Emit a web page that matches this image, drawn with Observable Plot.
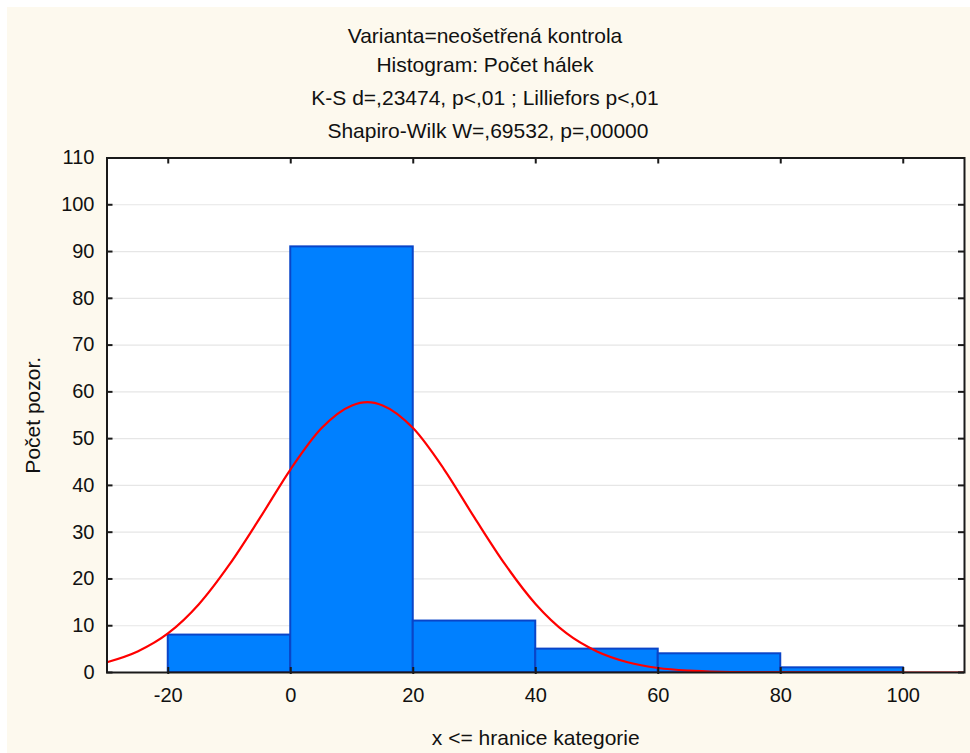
<!DOCTYPE html>
<html><head><meta charset="utf-8">
<script src="https://cdn.jsdelivr.net/npm/d3@7"></script>
<script src="https://cdn.jsdelivr.net/npm/@observablehq/plot@0.6"></script>
<style>
body{margin:0;background:#fff;}
#wrap{position:relative;width:970px;height:753px;overflow:hidden;}
#bg{position:absolute;left:7px;top:7px;right:0;bottom:0;background:#fdf9ee;}
.t{position:absolute;left:0;width:970px;text-align:center;font-family:"Liberation Sans",Arial,Helvetica,sans-serif;font-size:21px;line-height:21px;color:#111;white-space:pre;}
#chart{position:absolute;left:0;top:0;}
</style></head><body>
<div id="wrap"><div id="bg"></div>
<div class="t" style="top:25px">Varianta=neošetřená kontrola</div>
<div class="t" style="top:54px">Histogram: Počet hálek</div>
<div class="t" style="top:87px">K-S d=,23474, p&lt;,01 ; Lilliefors p&lt;,01</div>
<div class="t" style="top:120px"> Shapiro-Wilk W=,69532, p=,00000</div>
<div id="chart"></div></div>
<script>
// histogram bins (upper bound = "x <= hranice kategorie")
const binStart = [-20, 0, 20, 40, 60, 80];
const binEnd   = [0, 20, 40, 60, 80, 100];
const counts   = [8, 91, 11, 5, 4, 1];
// fitted normal curve
const curveX = [-30, -25, -20, -15, -10, -5, 0, 5, 10, 12.5, 15, 20, 25, 30, 35, 40, 45, 50, 55, 60, 65, 70, 75, 80, 90, 100, 110];
const curveY = [2.2, 4.5, 8.4, 14.6, 23.1, 33.1, 43.5, 52.2, 57.1, 57.8, 57.1, 52.2, 43.5, 33.1, 23.1, 14.6, 8.4, 4.5, 2.2, 0.96, 0.39, 0.14, 0.05, 0.02, 0, 0, 0];
const xTicks = [-20, 0, 20, 40, 60, 80, 100];
const yTicks = [0, 10, 20, 30, 40, 50, 60, 70, 80, 90, 100, 110];

const bins = binStart.map((s, i) => ({x1: s, x2: binEnd[i], count: counts[i]}));
const curve = curveX.map((x, i) => ({x, y: curveY[i]}));

const W = 970, H = 753, mL = 106.5, mR = 6, mT = 157.5, mB = 81;
const pw = W - mL - mR, ph = H - mT - mB;
const ink = "#1a1a1a";

const chart = Plot.plot({
  width: W, height: H,
  marginLeft: mL, marginRight: mR, marginTop: mT, marginBottom: mB,
  style: {background: "transparent", fontFamily: '"Liberation Sans", Arial, Helvetica, sans-serif', fontSize: "20px", color: "#111", overflow: "visible"},
  x: {domain: [-30, 110]},
  y: {domain: [0, 110]},
  marks: [
    Plot.frame({fill: "white"}),
    Plot.gridY(yTicks.filter(d => d > 0 && d < 110), {stroke: "#e6e6e6", strokeOpacity: 1, strokeWidth: 1.2}),
    Plot.rectY(bins, {x1: "x1", x2: "x2", y: "count", fill: "#0080ff", stroke: "#0a45c8", strokeWidth: 2}),
    Plot.line(curve, {x: "x", y: "y", stroke: "#ff0000", strokeWidth: 2.2, curve: "monotone-x", clip: true}),
    // inward ticks
    Plot.ruleY(yTicks, {insetRight: pw - 6, stroke: ink, strokeWidth: 2}),
    Plot.ruleY(yTicks, {insetLeft: pw - 6, stroke: ink, strokeWidth: 2}),
    Plot.ruleX(xTicks, {insetTop: ph - 5, insetBottom: -2, stroke: ink, strokeWidth: 2}),
    Plot.ruleX(xTicks, {insetBottom: ph - 6, stroke: ink, strokeWidth: 2}),
    Plot.axisX(xTicks, {tickSize: 0, tickPadding: 15, fontSize: 20, tickFormat: d => String(d), label: "x <= hranice kategorie", labelAnchor: "center", labelOffset: 72, labelArrow: "none"}),
    Plot.axisY(yTicks, {tickSize: 0, tickPadding: 12.5, fontSize: 20, tickFormat: d => String(d), label: "Počet pozor.", labelAnchor: "center", labelOffset: 82, labelArrow: "none"}),
    Plot.frame({stroke: ink, strokeWidth: 2})
  ]
});
chart.querySelectorAll('[aria-label$="axis label"] text').forEach(t => t.setAttribute("font-size", "21px"));
document.getElementById("chart").append(chart);
</script>
</body></html>
